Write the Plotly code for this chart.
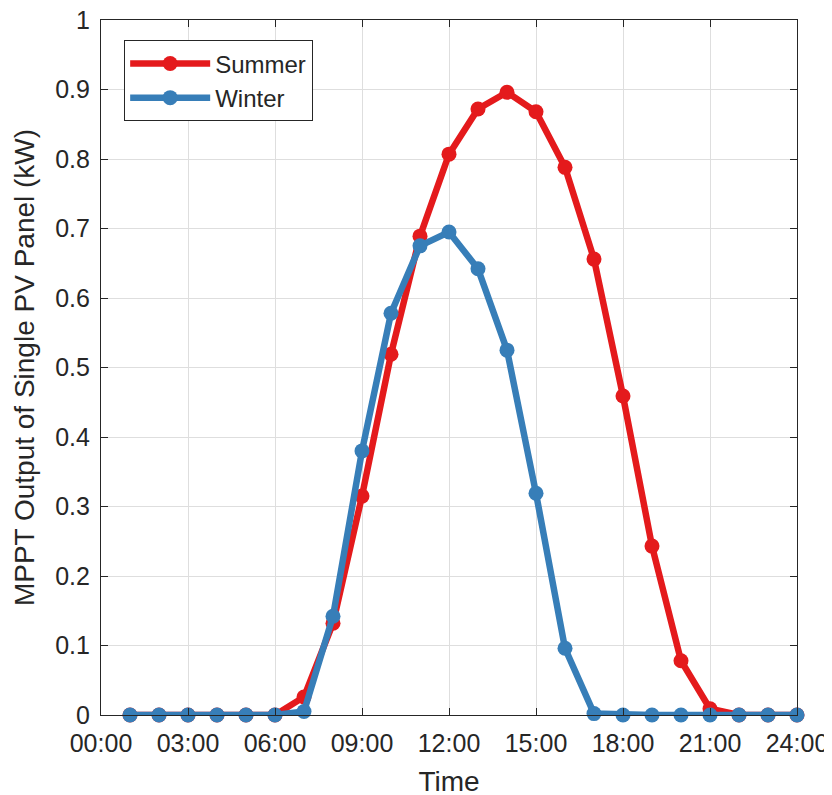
import plotly.graph_objects as go

hours = list(range(1, 25))
summer = [0, 0, 0, 0, 0, 0, 0.026, 0.132, 0.315, 0.519, 0.689, 0.807, 0.872, 0.896,
          0.868, 0.788, 0.656, 0.459, 0.243, 0.078, 0.009, 0, 0, 0]
winter = [0, 0, 0, 0, 0, 0, 0.005, 0.142, 0.38, 0.578, 0.675, 0.695, 0.642, 0.525,
          0.319, 0.096, 0.002, 0, 0, 0, 0, 0, 0, 0]
xtick_vals = [0, 3, 6, 9, 12, 15, 18, 21, 24]
xtick_text = ["00:00", "03:00", "06:00", "09:00", "12:00", "15:00", "18:00", "21:00", "24:00"]
ytick_vals = [0, 0.1, 0.2, 0.3, 0.4, 0.5, 0.6, 0.7, 0.8, 0.9, 1]
ytick_text = ["0", "0.1", "0.2", "0.3", "0.4", "0.5", "0.6", "0.7", "0.8", "0.9", "1"]

FONT = "Liberation Sans, Arial, Helvetica"
TXT = "#262626"

fig = go.Figure()
fig.add_trace(go.Scatter(x=hours, y=summer, mode="lines+markers", name="Summer",
                         line=dict(color="#E41A1C", width=6.5),
                         marker=dict(color="#E41A1C", size=15, symbol="circle"),
                         cliponaxis=False))
fig.add_trace(go.Scatter(x=hours, y=winter, mode="lines+markers", name="Winter",
                         line=dict(color="#377EB8", width=6.5),
                         marker=dict(color="#377EB8", size=15, symbol="circle"),
                         cliponaxis=False))

axis_common = dict(showline=True, linecolor=TXT, linewidth=1.2, mirror="allticks",
                   ticks="inside", ticklen=7, tickcolor=TXT,
                   showgrid=True, gridcolor="#DEDEDE", gridwidth=1, zeroline=False,
                   ticklabeloverflow="allow",
                   tickfont=dict(family=FONT, size=25, color=TXT))

fig.update_xaxes(range=[0, 24], tickvals=xtick_vals, ticktext=xtick_text,
                 ticklabelstandoff=6,
                 title=dict(text="Time", font=dict(family=FONT, size=28, color=TXT),
                            standoff=15),
                 **axis_common)
fig.update_yaxes(range=[0, 1], tickvals=ytick_vals, ticktext=ytick_text,
                 ticklabelstandoff=5,
                 title=dict(text="MPPT Output of Single PV Panel (kW)",
                            font=dict(family=FONT, size=28, color=TXT),
                            standoff=12),
                 **axis_common)

fig.update_layout(
    width=832, height=795,
    margin=dict(l=93, r=43, t=12, b=88, autoexpand=False),
    plot_bgcolor="white", paper_bgcolor="white",
    showlegend=True,
    legend=dict(x=0.033, y=0.971, xanchor="left", yanchor="top",
                bgcolor="white", bordercolor=TXT, borderwidth=1.2,
                font=dict(family=FONT, size=24, color=TXT),
                itemwidth=80, tracegroupgap=0),
)

fig.write_html("out.html")
